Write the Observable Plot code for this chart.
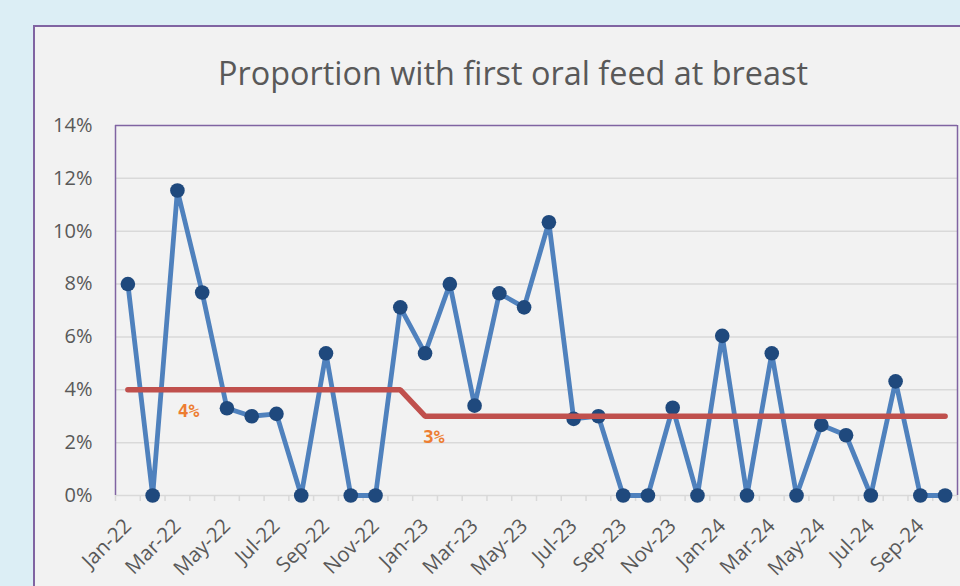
<!DOCTYPE html>
<html>
<head>
<meta charset="utf-8">
<script src="https://cdn.jsdelivr.net/npm/d3@7"></script>
<script src="https://cdn.jsdelivr.net/npm/@observablehq/plot@0.6"></script>
<style>
  html, body { margin: 0; padding: 0; width: 960px; height: 586px; overflow: hidden; background: #dceef5; }
  #panel { position: absolute; left: 33px; top: 25px; width: 1000px; height: 620px; background: #f2f2f2; border: 2px solid #8064a2; box-sizing: border-box; }
  #title { position: absolute; left: 33px; top: 50px; width: 960px; text-align: center; font-family: "Open Sans", sans-serif; font-size: 32.4px; color: #595959; }
  #chart { position: absolute; left: 0; top: 0; }
</style>
</head>
<body>
<div id="panel"></div>
<div id="title">Proportion with first oral feed at breast</div>
<div id="chart"></div>
<script>
const months = ["Jan-22","Feb-22","Mar-22","Apr-22","May-22","Jun-22","Jul-22","Aug-22","Sep-22","Oct-22","Nov-22","Dec-22",
                "Jan-23","Feb-23","Mar-23","Apr-23","May-23","Jun-23","Jul-23","Aug-23","Sep-23","Oct-23","Nov-23","Dec-23",
                "Jan-24","Feb-24","Mar-24","Apr-24","May-24","Jun-24","Jul-24","Aug-24","Sep-24","Oct-24"];
const proportion = [8.0, 0, 11.54, 7.68, 3.3, 3.0, 3.09, 0, 5.38, 0, 0, 7.12,
                    5.38, 8.0, 3.4, 7.65, 7.12, 10.34, 2.9, 3.0, 0, 0, 3.32, 0,
                    6.04, 0, 5.38, 0, 2.67, 2.28, 0, 4.32, 0, 0];
const median = [4,4,4,4,4,4,4,4,4,4,4,4,
                3,3,3,3,3,3,3,3,3,3,3,3,
                3,3,3,3,3,3,3,3,3,3];
const medianLabels = [{i: 2.45, v: 3.18, text: "4%"}, {i: 12.35, v: 2.2, text: "3%"}];
const yTicks = [0, 2, 4, 6, 8, 10, 12, 14];

const data = months.map((m, i) => ({i, month: m, v: proportion[i], med: median[i]}));
const n = months.length;
const boundaries = d3.range(n + 1).map(k => k - 0.5);
const labelTicks = d3.range(0, n, 2);

const plot = Plot.plot({
  width: 960,
  height: 586,
  marginLeft: 115,
  marginRight: 3,
  marginTop: 125,
  marginBottom: 91,
  style: {background: "transparent", fontFamily: "Open Sans, sans-serif"},
  x: {type: "linear", domain: [-0.5, n - 0.5], axis: null},
  y: {domain: [0, 14], axis: null},
  marks: [
    Plot.ruleY(yTicks.filter(d => d > 0 && d < 14), {stroke: "#d9d9d9", strokeWidth: 1.5}),
    Plot.ruleY([0], {stroke: "#d9d9d9", strokeWidth: 1.5}),
    Plot.axisX({ticks: boundaries, tickFormat: () => "", tickSize: 6, stroke: "#d9d9d9", strokeWidth: 1.5, label: null}),
    Plot.text(labelTicks, {x: d => d, y: 0, text: d => months[d], rotate: -45, textAnchor: "end", dy: 27, fontSize: 20.5, fill: "#595959", fontFamily: "Open Sans, sans-serif"}),
    Plot.text(yTicks, {x: -0.5, y: d => d, text: d => d + "%", textAnchor: "end", dx: -23, fontSize: 20, fill: "#595959", fontFamily: "Open Sans, sans-serif"}),
    Plot.ruleX([-0.5], {stroke: "#8064a2", strokeWidth: 1.5}),
    Plot.ruleX([n - 0.5], {stroke: "#8064a2", strokeWidth: 1.5}),
    Plot.ruleY([14], {stroke: "#8064a2", strokeWidth: 1.5}),
    Plot.line(data, {x: "i", y: "v", stroke: "#4f81bd", strokeWidth: 4.8}),
    Plot.dot(data, {x: "i", y: "v", r: 7.3, fill: "#1f497d", stroke: "none"}),
    Plot.line(data, {x: "i", y: "med", stroke: "#c0504d", strokeWidth: 5.5, strokeLinecap: "round", strokeLinejoin: "miter"}),
    Plot.text(medianLabels, {x: "i", y: "v", text: "text", fill: "#ed7d31", fontSize: 18, fontWeight: "bold", fontFamily: "DejaVu Sans Mono, monospace"})
  ]
});
document.getElementById("chart").appendChild(plot);
</script>
</body>
</html>
